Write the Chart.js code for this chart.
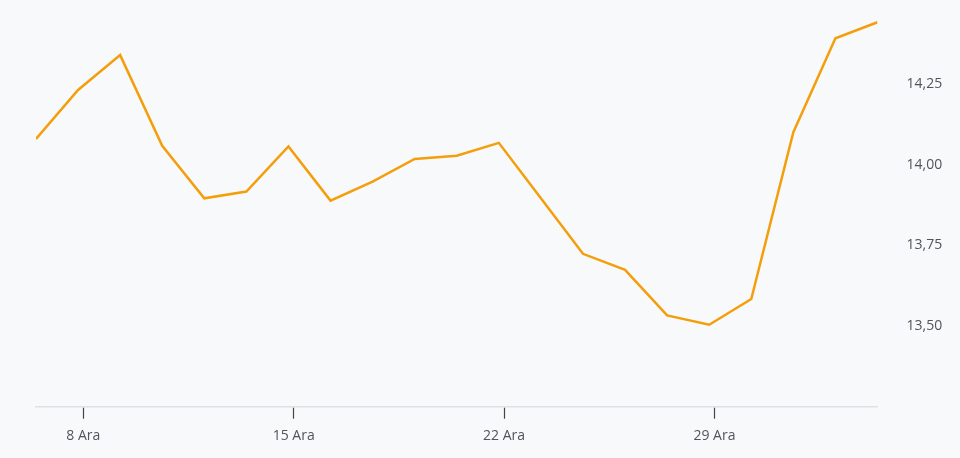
<!DOCTYPE html>
<html>
<head>
<meta charset="utf-8">
<script src="https://cdn.jsdelivr.net/npm/chart.js@4.4.1/dist/chart.umd.min.js"></script>
<style>
  html, body { margin: 0; padding: 0; background: #f8f9fb; }
  #wrap { width: 960px; height: 458px; position: relative; }
</style>
</head>
<body>
<div id="wrap"><canvas id="chart"></canvas></div>
<script>
// Data (trading days, weekends skipped)
const days = ['5 Ara', '8 Ara', '9 Ara', '10 Ara', '11 Ara', '12 Ara',
  '15 Ara', '16 Ara', '17 Ara', '18 Ara', '19 Ara',
  '22 Ara', '23 Ara', '24 Ara', '25 Ara', '26 Ara',
  '29 Ara', '30 Ara', '31 Ara', '1 Oca', '2 Oca'];
const prices = [14.08, 14.232, 14.34, 14.059, 13.896, 13.917,
  14.057, 13.889, 13.948, 14.018, 14.028,
  14.068, 13.896, 13.724, 13.674, 13.533,
  13.504, 13.584, 14.101, 14.392, 14.442];
const xTickLabels = ['8 Ara', '15 Ara', '22 Ara', '29 Ara'];
const yTickValues = [13.5, 13.75, 14.0, 14.25];
const tzShift = 3 / 24; // ticks sit at local midnight, points a bit earlier

const textColor = '#50555b';
const fontFamily = '"Open Sans", "Noto Sans", sans-serif';

const ctx = document.getElementById('chart').getContext('2d');
const chart = new Chart(ctx, {
  type: 'line',
  data: {
    datasets: [{
      data: prices.map((v, i) => ({ x: i, y: v })),
      borderColor: '#f59e0b',
      borderWidth: 2.5,
      pointRadius: 0,
      tension: 0,
      fill: false
    }]
  },
  options: {
    responsive: true,
    maintainAspectRatio: false,
    animation: false,
    layout: { padding: { left: 36, top: 3.5, right: 0, bottom: 0 } },
    plugins: { legend: { display: false }, tooltip: { enabled: false } },
    scales: {
      x: {
        type: 'linear',
        min: 0,
        max: days.length - 1,
        afterBuildTicks: (scale) => {
          scale.ticks = xTickLabels.map(l => ({ value: days.indexOf(l) + tzShift }));
        },
        afterFit: (scale) => { scale.height = 51.3; },
        ticks: {
          autoSkip: false,
          maxRotation: 0,
          padding: 9,
          color: textColor,
          font: { family: fontFamily, size: 14 },
          callback: (v) => days[Math.round(v)]
        },
        grid: {
          display: true,
          drawOnChartArea: false,
          drawTicks: true,
          tickLength: 12,
          tickColor: '#444',
          tickWidth: 1.2
        },
        border: { display: true, color: '#dfe1e5', width: 1.5 }
      },
      y: {
        position: 'right',
        min: 13.25,
        max: 14.5,
        afterBuildTicks: (scale) => {
          scale.ticks = yTickValues.map(v => ({ value: v }));
        },
        afterFit: (scale) => {
          scale.width = 82.5;
          scale.paddingTop = 0;
          scale.paddingBottom = 0;
        },
        ticks: {
          padding: 29,
          color: textColor,
          font: { family: fontFamily, size: 14 },
          callback: (v) => v.toFixed(2).replace('.', ',')
        },
        grid: { display: false, drawTicks: false },
        border: { display: false }
      }
    }
  }
});
</script>
</body>
</html>
